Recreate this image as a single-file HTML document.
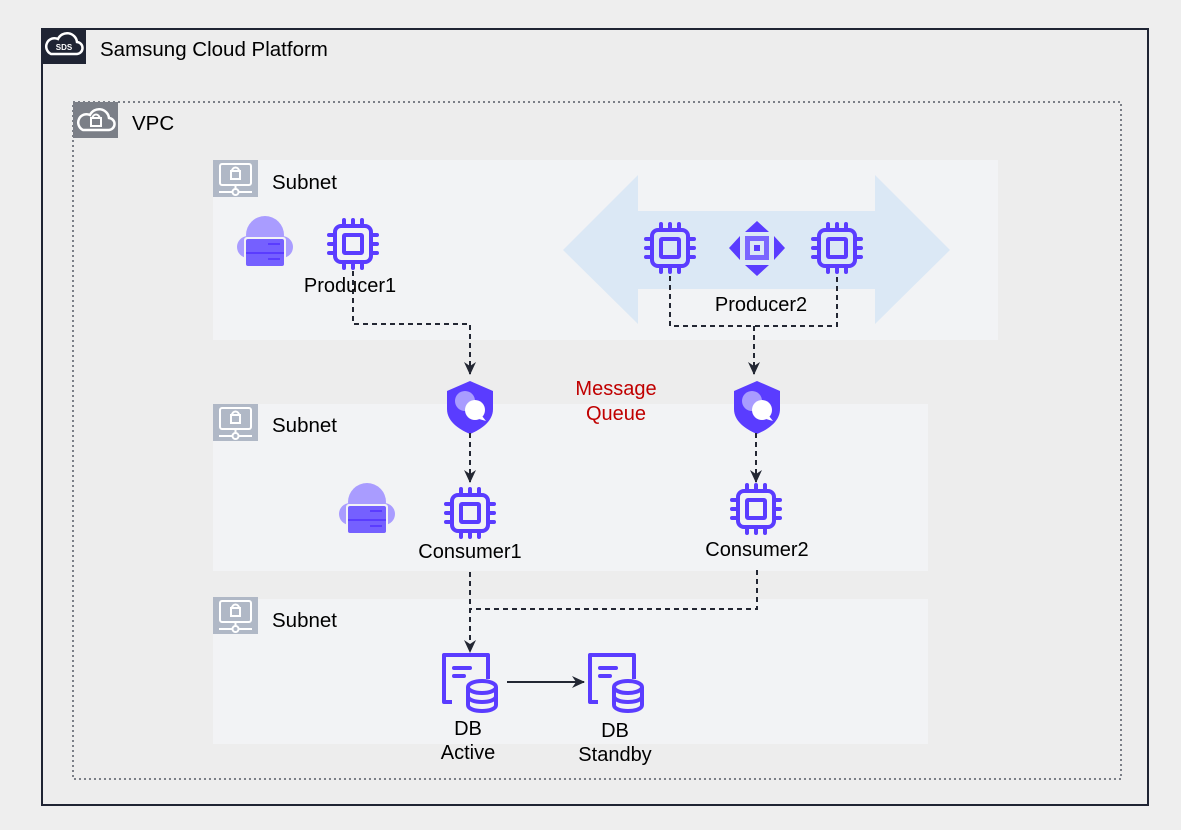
<!DOCTYPE html>
<html><head><meta charset="utf-8"><style>
html,body{margin:0;padding:0;background:#eeeeee;}
svg{display:block;font-family:"Liberation Sans",Arial,sans-serif;}
</style></head><body>
<svg width="1181" height="830" viewBox="0 0 1181 830" xmlns="http://www.w3.org/2000/svg">
<defs>
<g id="chip" fill="none" stroke="#5a3cff" stroke-width="4" stroke-linecap="round">
  <rect x="-18" y="-18" width="36" height="36" rx="6"/>
  <rect x="-9" y="-9" width="18" height="18" rx="1"/>
  <path d="M-9,-18v-6M0,-18v-6M9,-18v-6M-9,18v6M0,18v6M9,18v6M-18,-9h-6M-18,0h-6M-18,9h-6M18,-9h6M18,0h6M18,9h6"/>
</g>
<g id="cloudsrv">
  <circle cx="0" cy="-8" r="19" fill="#a99cff"/>
  <circle cx="-17" cy="4" r="11" fill="#a99cff"/>
  <circle cx="17" cy="4" r="11" fill="#a99cff"/>
  <rect x="-21" y="-6" width="42" height="30" rx="3" fill="#f2f3f5"/>
  <rect x="-19" y="-4" width="38" height="27" rx="2" fill="#7560ff"/>
  <rect x="-19" y="9" width="38" height="2" fill="#5a3cff"/>
  <rect x="3" y="0" width="12" height="2" fill="#5a3cff"/>
  <rect x="3" y="15" width="12" height="2" fill="#5a3cff"/>
</g>
<g id="shield">
  <path d="M0,-24 L23,-14 L23,4 C23,16 12,24 0,29 C-12,24 -23,16 -23,4 L-23,-14 Z" fill="#5a3cff"/>
  <circle cx="-5" cy="-4" r="10" fill="#a99cff"/>
  <circle cx="5" cy="5" r="10" fill="#fff"/>
  <path d="M12,11 L16,16 L9,14Z" fill="#fff"/>
</g>
<g id="db" fill="none" stroke="#5a3cff" stroke-width="4" stroke-linejoin="round">
  <path d="M8,47 H0 V0 H44 V24"/>
  <path d="M10,13 H26 M10,21 H20" stroke-linecap="round"/>
  <ellipse cx="38" cy="32" rx="14" ry="6" fill="#f2f3f5"/>
  <path d="M24,32 V50 C24,58 52,58 52,50 V32 M24,41 C24,49 52,49 52,41"/>
</g>
<g id="subicon">
  <rect x="0" y="0" width="45" height="37" fill="#b0b8c6"/>
  <rect x="7" y="4" width="31" height="21" rx="2" fill="none" stroke="#fff" stroke-width="2"/>
  <rect x="18" y="11" width="9" height="8" fill="none" stroke="#fff" stroke-width="2"/>
  <path d="M19,11 a3.5,3.5 0 0 1 7,0" fill="none" stroke="#fff" stroke-width="2"/>
  <path d="M22.5,25 v4 M6,32 h13 M26,32 h13" stroke="#fff" stroke-width="2"/>
  <circle cx="22.5" cy="32" r="3" fill="none" stroke="#fff" stroke-width="2"/>
</g>
<marker id="ah" markerWidth="14" markerHeight="14" refX="12" refY="7" orient="auto" markerUnits="userSpaceOnUse">
  <path d="M0,1 L13,7 L0,13 L4,7Z" fill="#232733"/>
</marker>
</defs>

<rect x="0" y="0" width="1181" height="830" fill="#eeeeee"/>
<rect x="42" y="29" width="1106" height="776" fill="#ededed" stroke="#1f2433" stroke-width="2"/>
<rect x="41" y="28" width="45" height="36" fill="#1f2433"/>
<path d="M51,54 h25 a6,6 0 0 0 1,-12 a10,10 0 0 0 -19,-3 a8,8 0 0 0 -7,15z" fill="none" stroke="#fff" stroke-width="2.5"/>
<text x="64" y="50" font-size="8" font-weight="bold" fill="#fff" text-anchor="middle">SDS</text>
<text x="100" y="56" font-size="20.5" fill="#000">Samsung Cloud Platform</text>

<rect x="73" y="102" width="1048" height="677" fill="none" stroke="#7b7f87" stroke-width="2" stroke-dasharray="2,3"/>
<rect x="73" y="102" width="45" height="36" fill="#7b7f87"/>
<path d="M83,130 h25 a6,6 0 0 0 1,-12 a10,10 0 0 0 -19,-3 a8,8 0 0 0 -7,15z" fill="none" stroke="#fff" stroke-width="2.5"/>
<rect x="91" y="118" width="10" height="8" fill="none" stroke="#fff" stroke-width="2"/>
<path d="M92.5,118 a3.5,3.5 0 0 1 7,0" fill="none" stroke="#fff" stroke-width="2"/>
<text x="132" y="130" font-size="20.5" fill="#000">VPC</text>

<rect x="213" y="160" width="785" height="180" fill="#f2f3f5"/>
<rect x="213" y="404" width="715" height="167" fill="#f2f3f5"/>
<rect x="213" y="599" width="715" height="145" fill="#f2f3f5"/>
<use href="#subicon" x="213" y="160"/>
<use href="#subicon" x="213" y="404"/>
<use href="#subicon" x="213" y="597"/>
<text x="272" y="189" font-size="20.5">Subnet</text>
<text x="272" y="432" font-size="20.5">Subnet</text>
<text x="272" y="627" font-size="20.5">Subnet</text>

<path d="M563,250 L638,175 L638,211 L875,211 L875,175 L950,250 L875,324 L875,289 L638,289 L638,324 Z" fill="#dbe8f5"/>

<use href="#cloudsrv" x="265" y="243"/>
<use href="#cloudsrv" x="367" y="510"/>
<use href="#chip" x="353" y="244"/>
<use href="#chip" x="670" y="248"/>
<use href="#chip" x="837" y="248"/>
<use href="#chip" x="470" y="513"/>
<use href="#chip" x="756" y="509"/>

<g fill="#5a3cff">
  <rect x="745" y="236" width="24" height="24" fill="#7a66ff"/>
  <rect x="750" y="241" width="14" height="14" fill="#dbe8f5"/>
  <rect x="754" y="245" width="6" height="6"/>
  <path d="M757,221 L769,232 L745,232Z M757,276 L769,265 L745,265Z M729,248 L740,236 L740,260Z M785,248 L774,236 L774,260Z"/>
</g>

<use href="#shield" x="470" y="405"/>
<use href="#shield" x="757" y="405"/>

<use href="#db" x="444" y="655"/>
<use href="#db" x="590" y="655"/>

<g fill="none" stroke="#232733" stroke-width="2" stroke-dasharray="5,4">
  <path d="M353,271 V324 H470 V374" marker-end="url(#ah)"/>
  <path d="M670,276 V326 H837 V276"/>
  <path d="M754,326 V374" marker-end="url(#ah)"/>
  <path d="M470,433 V482" marker-end="url(#ah)"/>
  <path d="M756,433 V482" marker-end="url(#ah)"/>
  <path d="M470,572 V652" marker-end="url(#ah)"/>
  <path d="M757,570 V609 H470"/>
</g>
<path d="M507,682 H584" stroke="#232733" stroke-width="2" fill="none" marker-end="url(#ah)"/>

<g font-size="20" fill="#000" text-anchor="middle">
  <text x="350" y="292">Producer1</text>
  <text x="761" y="311">Producer2</text>
  <text x="470" y="558">Consumer1</text>
  <text x="757" y="556">Consumer2</text>
  <text x="468" y="735">DB</text>
  <text x="468" y="759">Active</text>
  <text x="615" y="737">DB</text>
  <text x="615" y="761">Standby</text>
  <text x="616" y="395" fill="#c00000">Message</text>
  <text x="616" y="420" fill="#c00000">Queue</text>
</g>
</svg>
</body></html>
